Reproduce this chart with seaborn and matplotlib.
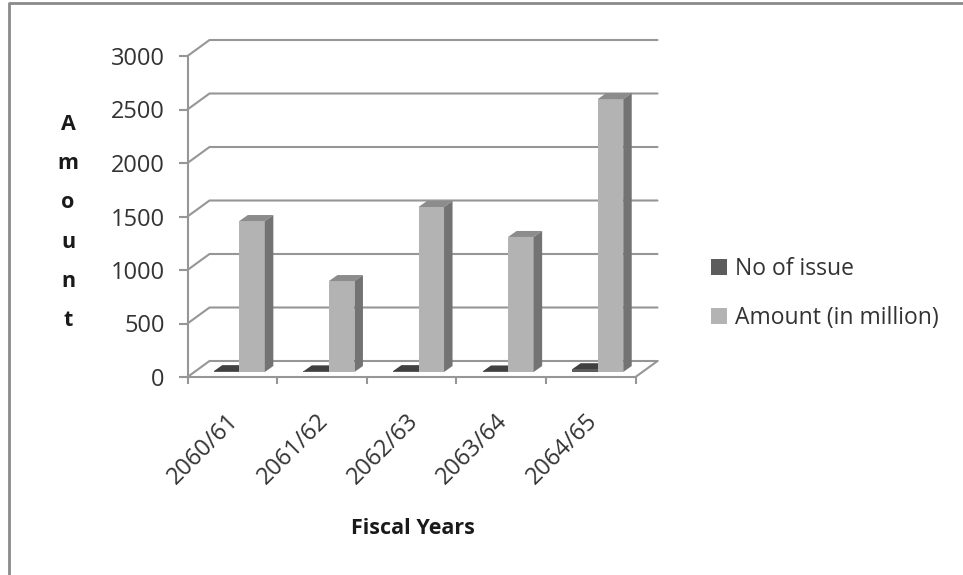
import pandas as pd
import seaborn as sns
import matplotlib.pyplot as plt
from matplotlib.patches import Polygon
from matplotlib.lines import Line2D
from matplotlib.transforms import ScaledTranslation

years = ["2060/61", "2061/62", "2062/63", "2063/64", "2064/65"]
no_of_issue = [8, 6, 8, 5, 26]
amount = [1411, 850, 1542, 1262, 2550]
series_names = ["No of issue", "Amount (in million)"]
yticks = [0, 500, 1000, 1500, 2000, 2500, 3000]

GRID = "#969696"
TEXT = "#333333"
BOLD = "#1a1a1a"

df = pd.DataFrame({
    "year": years * 2,
    "series": [series_names[0]] * 5 + [series_names[1]] * 5,
    "value": no_of_issue + amount,
})

sns.set_style("white")
plt.rcParams["font.family"] = ["Open Sans", "DejaVu Sans"]

fig = plt.figure(figsize=(9.63, 5.75), dpi=100)
ax = fig.add_axes([187.5 / 963, (575 - 377) / 575, 448 / 963, 321 / 575])

sns.barplot(data=df, x="year", y="value", hue="series", hue_order=series_names,
            palette=["#5c5c5c", "#b3b3b3"], width=0.57, saturation=1, linewidth=0, ax=ax, zorder=3)
ax.set_xlim(-0.5, 4.5)
ax.set_ylim(0, 3000)

# pixel sizes turned into data units for the fake 3D look
px_x = 5 / 448
px_y = 3000 / 321
wall_dx, wall_dy = 22 * px_x, 16 * px_y
plane_dx, plane_dy = 7 * px_x, 5 * px_y
bar_dx, bar_dy = 8.5 * px_x, 6 * px_y

# back wall and gridlines
for v in yticks:
    ax.plot([-0.5, -0.5 + wall_dx, 4.5 + wall_dx], [v, v + wall_dy, v + wall_dy],
            color=GRID, lw=1.5, clip_on=False, zorder=1, solid_joinstyle="round")
ax.plot([4.5, 4.5 + wall_dx], [0, wall_dy], color=GRID, lw=1.5, clip_on=False, zorder=1)

# move the bars inside the floor and add top and side faces
faces = {0: ("#404040", "#333333", 2.5), 1: ("#8c8c8c", "#737373", 3)}
for i, container in enumerate(ax.containers):
    top_col, side_col, face_z = faces[i]
    for bar in container:
        bar.set_x(bar.get_x() + plane_dx)
        bar.set_y(plane_dy)
        bar.set_clip_on(False)
        x0, x1 = bar.get_x(), bar.get_x() + bar.get_width()
        y0, y1 = plane_dy, plane_dy + bar.get_height()
        ax.add_patch(Polygon([(x0, y1), (x0 + bar_dx, y1 + bar_dy), (x1 + bar_dx, y1 + bar_dy), (x1, y1)],
                             facecolor=top_col, edgecolor="none", clip_on=False, zorder=face_z))
        ax.add_patch(Polygon([(x1, y0), (x1 + bar_dx, y0 + bar_dy), (x1 + bar_dx, y1 + bar_dy), (x1, y1)],
                             facecolor=side_col, edgecolor="none", clip_on=False, zorder=face_z))

sns.despine(ax=ax, top=True, right=True)
for side in ["left", "bottom"]:
    ax.spines[side].set_color(GRID)
    ax.spines[side].set_linewidth(1.5)
    ax.spines[side].set_zorder(2)

ax.set_yticks(yticks)
ax.tick_params(axis="y", length=6.5, width=1.5, color=GRID, pad=10, labelsize=17, labelcolor=TEXT, left=True)
ax.set_xticks([x - 0.5 for x in range(6)], minor=True)
ax.tick_params(axis="x", which="minor", length=5, width=1.5, color=GRID, bottom=True)
ax.tick_params(axis="x", which="major", length=0, pad=29, labelsize=17, labelcolor=TEXT)
ax.set_xticks(range(5), years, rotation=45, ha="right", va="center", rotation_mode="anchor")
for label in ax.get_xticklabels():
    label.set_transform(label.get_transform() + ScaledTranslation(3 / 100, 0, fig.dpi_scale_trans))

ax.set_xlabel("Fiscal Years", fontsize=15.5, fontweight="bold", color=BOLD)
ax.xaxis.set_label_coords((412.5 - 187.5) / 448, (377 - 528) / 321)
ax.xaxis.label.set_va("center")
ax.set_ylabel("A\nm\no\nu\nn\nt", rotation=0, fontsize=15.5, fontweight="bold", color=BOLD,
              linespacing=2.14, ha="center", va="center")
ax.yaxis.set_label_coords((68 - 187.5) / 448, (377 - 222.5) / 321)

handles, labels = ax.get_legend_handles_labels()
ax.legend(handles, labels, loc="center left", frameon=False, fontsize=16.5,
          bbox_to_anchor=((711 - 187.5) / 448, (377 - 293.5) / 321),
          handlelength=0.7, handleheight=0.7, handletextpad=0.35, labelspacing=1.1,
          labelcolor=TEXT, borderaxespad=0, borderpad=0)

# chart frame, left and top edges only
fig.add_artist(Line2D([9 / 963, 9 / 963, 1], [0, 1 - 2.5 / 575, 1 - 2.5 / 575],
                      transform=fig.transFigure, color="#8a8a8a", lw=2))

fig.savefig("out.png", dpi=100)
